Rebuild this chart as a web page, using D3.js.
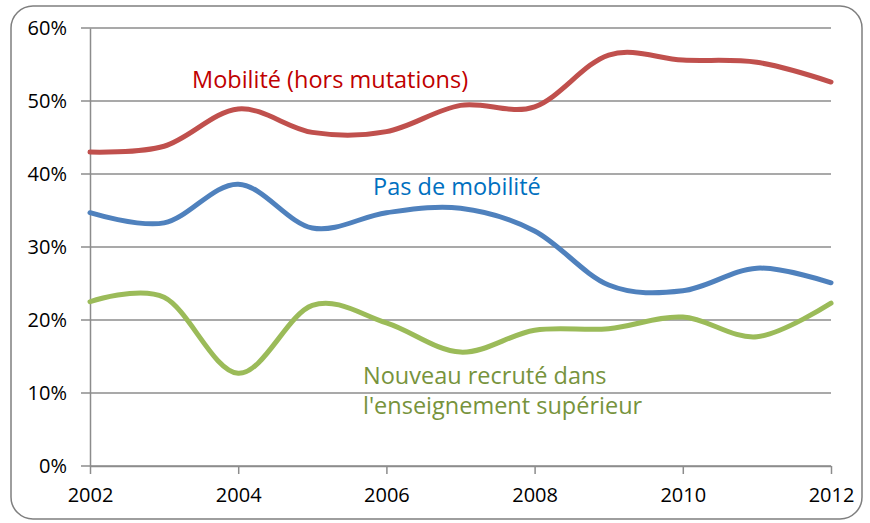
<!DOCTYPE html>
<html>
<head>
<meta charset="utf-8">
<script src="https://cdn.jsdelivr.net/npm/d3@7"></script>
<style>
body { margin: 0; background: #fff; }
svg text { font-family: "Open Sans", sans-serif; }
</style>
</head>
<body>
<div id="chart"></div>
<script>
// data
var years = [2002, 2003, 2004, 2005, 2006, 2007, 2008, 2009, 2010, 2011, 2012];
var mobilite = [43.0, 43.8, 48.9, 45.7, 45.8, 49.4, 49.2, 56.3, 55.6, 55.3, 52.6];
var pasMobilite = [34.7, 33.3, 38.6, 32.6, 34.7, 35.3, 32.2, 24.8, 24.0, 27.1, 25.1];
var nouveauRecrute = [22.5, 23.1, 12.7, 22.0, 19.6, 15.6, 18.6, 18.8, 20.4, 17.7, 22.3];
var yTicks = [0, 10, 20, 30, 40, 50, 60];
var xTicks = [2002, 2004, 2006, 2008, 2010, 2012];

var width = 870, height = 523;
var margin = { top: 28, right: 39, bottom: 57, left: 90 };
var w = width - margin.left - margin.right;
var h = height - margin.top - margin.bottom;

var svg = d3.select('#chart').append('svg')
	.attr('width', width)
	.attr('height', height);

// frame
svg.append('rect')
	.attr('x', 11).attr('y', 6)
	.attr('width', 851).attr('height', 513)
	.attr('rx', 22).attr('ry', 22)
	.attr('fill', 'none')
	.attr('stroke', '#7f7f7f')
	.attr('stroke-width', 1.5);

var xScale = d3.scaleLinear().domain([2002, 2012]).range([0, w]);
var yScale = d3.scaleLinear().domain([0, 60]).range([h, 0]);

var g = svg.append('g')
	.attr('transform', 'translate(' + margin.left + ',' + margin.top + ')');

// horizontal grid
g.selectAll('line.grid')
	.data(yTicks)
	.enter().append('line')
	.attr('class', 'grid')
	.attr('x1', -9).attr('x2', w)
	.attr('y1', function(d) { return yScale(d); })
	.attr('y2', function(d) { return yScale(d); })
	.attr('stroke', '#8c8c8c')
	.attr('stroke-width', 1.5);

// y axis
var yAxis = d3.axisLeft(yScale)
	.tickValues(yTicks)
	.tickSize(0)
	.tickPadding(23)
	.tickFormat(function(d) { return d + '%'; });
var yG = g.append('g').call(yAxis);
yG.select('.domain').attr('stroke', '#8c8c8c').attr('stroke-width', 1.5);
yG.selectAll('text').attr('font-size', 20).attr('fill', '#000')
	.style('font-family', '"Open Sans", sans-serif');

// x axis
var xAxis = d3.axisBottom(xScale)
	.tickValues(xTicks)
	.tickSize(8)
	.tickSizeOuter(0)
	.tickPadding(14)
	.tickFormat(d3.format('d'));
var xG = g.append('g')
	.attr('transform', 'translate(0,' + h + ')')
	.call(xAxis);
xG.select('.domain').attr('stroke', '#8c8c8c').attr('stroke-width', 1.5);
xG.selectAll('line').attr('stroke', '#8c8c8c').attr('stroke-width', 1.5);
xG.selectAll('text').attr('font-size', 20).attr('fill', '#000')
	.style('font-family', '"Open Sans", sans-serif');

var line = d3.line()
	.x(function(d, i) { return xScale(years[i]); })
	.y(function(d) { return yScale(d); })
	.curve(d3.curveCatmullRom.alpha(0));

var series = [
	{ values: nouveauRecrute, color: '#9bbb59' },
	{ values: pasMobilite, color: '#4f81bd' },
	{ values: mobilite, color: '#c0504d' }
];

g.selectAll('path.serie')
	.data(series)
	.enter().append('path')
	.attr('class', 'serie')
	.attr('d', function(d) { return line(d.values); })
	.attr('fill', 'none')
	.attr('stroke', function(d) { return d.color; })
	.attr('stroke-width', 5)
	.attr('stroke-linecap', 'round');

// labels
var labels = [
	{ text: 'Mobilité (hors mutations)', x: 192, y: 88, color: '#c00000' },
	{ text: 'Pas de mobilité', x: 373, y: 195, color: '#0070c0' },
	{ text: 'Nouveau recruté dans', x: 363, y: 384, color: '#77933c' },
	{ text: "l'enseignement supérieur", x: 363, y: 414, color: '#77933c' }
];
svg.selectAll('text.lbl')
	.data(labels)
	.enter().append('text')
	.attr('class', 'lbl')
	.attr('x', function(d) { return d.x; })
	.attr('y', function(d) { return d.y; })
	.attr('fill', function(d) { return d.color; })
	.attr('font-size', 23.5)
	.text(function(d) { return d.text; });
</script>
</body>
</html>
